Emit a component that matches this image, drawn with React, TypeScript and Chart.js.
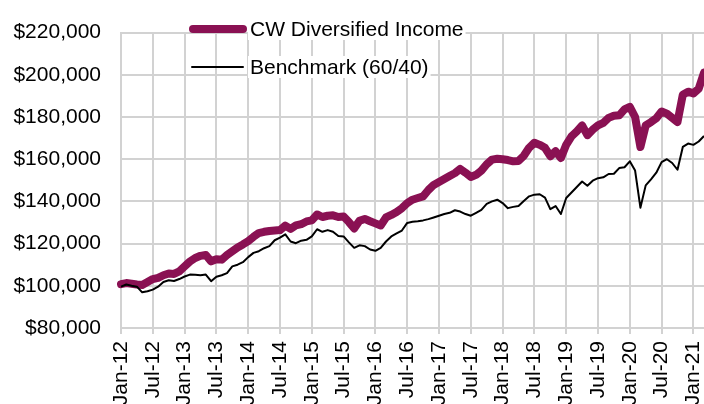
import React, { useEffect, useRef } from "react";
import { Chart, registerables } from "chart.js";

Chart.register(...registerables);

const MONTHS = ["Jan", "Feb", "Mar", "Apr", "May", "Jun", "Jul", "Aug", "Sep", "Oct", "Nov", "Dec"];
const START_YEAR = 12;
const N_POINTS = 111; // Jan-12 .. Mar-21
const categories: string[] = Array.from({ length: N_POINTS }, (_, i) => {
  const m = i % 12;
  const y = START_YEAR + Math.floor(i / 12);
  return `${MONTHS[m]}-${y}`;
});

const cwLabel = "CW Diversified Income";
const benchLabel = "Benchmark (60/40)";

// values in $ thousands
const cwValues = [
  100.8, 101.3, 101.0, 100.6, 100.4, 101.8, 103.2, 103.8, 105.0, 105.8, 105.6, 106.8,
  109.2, 111.5, 113.2, 114.2, 114.6, 111.6, 112.6, 112.4, 114.6, 116.4, 118.2, 119.6,
  121.2, 123.2, 125.0, 125.6, 126.0, 126.2, 126.4, 128.5, 127.0, 128.6, 129.2, 130.5,
  131.0, 133.8, 132.6, 133.2, 133.4, 132.6, 132.8, 130.2, 127.2, 130.8, 131.7, 130.6,
  129.6, 128.6, 132.4, 133.6, 135.0, 136.8, 139.2, 140.8, 141.6, 142.4, 145.4, 147.8,
  149.2, 150.6, 152.0, 153.4, 155.4, 153.6, 151.6, 152.6, 154.6, 157.6, 159.8, 160.2,
  160.0, 159.6, 159.0, 159.2, 161.6, 165.4, 167.8, 166.8, 165.4, 161.4, 163.8, 160.6,
  166.8, 170.8, 173.2, 176.0, 171.4, 174.0, 176.0, 177.2, 179.6, 180.6, 180.8, 183.6,
  184.8, 180.0, 165.8, 176.0, 177.6, 179.4, 182.6, 181.6, 179.6, 177.6, 190.6, 192.0,
  191.2, 193.4, 201.0,
];

const benchValues = [
  99.6, 100.6, 100.0, 99.6, 96.9, 97.4, 98.2, 99.6, 101.8, 102.6, 102.3, 103.2,
  104.4, 105.3, 105.2, 105.0, 105.3, 102.2, 104.3, 105.0, 106.0, 109.2, 110.0, 111.2,
  113.6, 115.6, 116.4, 117.8, 118.8, 121.6, 122.8, 124.4, 121.0, 120.2, 121.4, 121.8,
  123.4, 126.8, 125.6, 126.4, 125.6, 123.6, 123.4, 120.6, 118.0, 119.2, 118.8, 117.2,
  116.6, 118.0, 121.0, 123.4, 124.8, 126.2, 129.8, 130.4, 130.6, 131.0, 131.6, 132.4,
  133.2, 134.0, 134.6, 135.8, 135.2, 134.0, 133.2, 134.6, 136.0, 138.8, 140.0, 140.8,
  139.2, 136.8, 137.4, 137.8, 140.2, 142.4, 143.2, 143.4, 141.8, 136.3, 137.8, 134.0,
  141.6, 144.2, 146.8, 149.4, 147.4, 149.8, 151.0, 151.4, 153.0, 153.1, 155.8, 156.2,
  159.0, 154.6, 137.0, 147.6, 150.4, 153.6, 158.6, 160.0, 158.2, 155.0, 165.8, 167.4,
  166.8, 168.4, 171.0,
];

const Y_MIN = 80000;
const Y_MAX = 220000;
const Y_STEP = 20000;
const TICK_EVERY = 6;

const FONT_FAMILY = '"Liberation Sans", Arial, Helvetica, sans-serif';
const FONT_SIZE = 21;
const GRID_COLOR = "#d2d2d2";
const CW_COLOR = "#8a1153";
const BENCH_COLOR = "#000000";

const legendPlugin = {
  id: "customLegend",
  afterDraw(chart: any) {
    const ctx = chart.ctx as CanvasRenderingContext2D;
    const ds = chart.data.datasets;
    const rows = [
      { label: ds[0].label, color: ds[0].borderColor, width: ds[0].borderWidth, y: 29, x0: 193, x1: 243 },
      { label: ds[1].label, color: ds[1].borderColor, width: ds[1].borderWidth, y: 67, x0: 192, x1: 243 },
    ];
    ctx.save();
    ctx.font = `${FONT_SIZE}px ${FONT_FAMILY}`;
    ctx.textBaseline = "middle";
    ctx.textAlign = "left";
    for (const r of rows) {
      const tx = 250;
      const w = ctx.measureText(r.label).width;
      ctx.fillStyle = "#ffffff";
      ctx.fillRect(tx - 2, r.y - 11, w + 4, 22);
      ctx.beginPath();
      ctx.lineCap = "round";
      ctx.strokeStyle = r.color;
      ctx.lineWidth = r.width;
      ctx.moveTo(r.x0, r.y);
      ctx.lineTo(r.x1, r.y);
      ctx.stroke();
      ctx.fillStyle = "#000000";
      ctx.fillText(r.label, tx, r.y + 1);
    }
    ctx.restore();
  },
};

export default function App() {
  const canvasRef = useRef<HTMLCanvasElement | null>(null);

  useEffect(() => {
    if (!canvasRef.current) return;
    const chart = new Chart(canvasRef.current, {
      type: "line",
      data: {
        labels: categories,
        datasets: [
          {
            label: cwLabel,
            data: cwValues.map((v) => v * 1000),
            borderColor: CW_COLOR,
            borderWidth: 8,
            pointRadius: 0,
            tension: 0,
            borderJoinStyle: "round",
            borderCapStyle: "round",
            order: 1,
          },
          {
            label: benchLabel,
            data: benchValues.map((v) => v * 1000),
            borderColor: BENCH_COLOR,
            borderWidth: 2,
            pointRadius: 0,
            tension: 0,
            borderJoinStyle: "round",
            order: 0,
          },
        ],
      },
      options: {
        animation: false,
        responsive: false,
        layout: { padding: { top: 12, right: 0, bottom: 0, left: 0 } },
        plugins: {
          legend: { display: false },
          tooltip: { enabled: false },
        },
        scales: {
          x: {
            type: "category",
            offset: false,
            grid: {
              color: (c: any) => (c.index % TICK_EVERY === 0 ? GRID_COLOR : "rgba(0,0,0,0)"),
              lineWidth: 2,
              drawTicks: true,
              tickLength: 6,
            },
            border: { display: true, color: GRID_COLOR, width: 2 },
            ticks: {
              autoSkip: false,
              maxRotation: 90,
              minRotation: 90,
              padding: 7,
              color: "#000000",
              font: { family: FONT_FAMILY, size: FONT_SIZE },
              callback: (_v: any, idx: number) => (idx % TICK_EVERY === 0 ? categories[idx] : ""),
            },
            afterFit: (s: any) => {
              s.height = 76;
              s.paddingLeft = 0;
              s.paddingRight = 0;
            },
          },
          y: {
            type: "linear",
            min: Y_MIN,
            max: Y_MAX,
            grid: { color: GRID_COLOR, lineWidth: 2, drawTicks: false },
            border: { display: true, color: GRID_COLOR, width: 2 },
            ticks: {
              stepSize: Y_STEP,
              padding: 20,
              color: "#000000",
              font: { family: FONT_FAMILY, size: FONT_SIZE },
              callback: (v: any) => "$" + Number(v).toLocaleString("en-US"),
            },
            afterFit: (s: any) => {
              s.width = 121;
            },
          },
        },
      },
      plugins: [legendPlugin],
    });
    return () => chart.destroy();
  }, []);

  return (
    <div style={{ position: "absolute", left: 0, top: 0, width: 704, height: 404 }}>
      <canvas ref={canvasRef} width={704} height={404} />
    </div>
  );
}
